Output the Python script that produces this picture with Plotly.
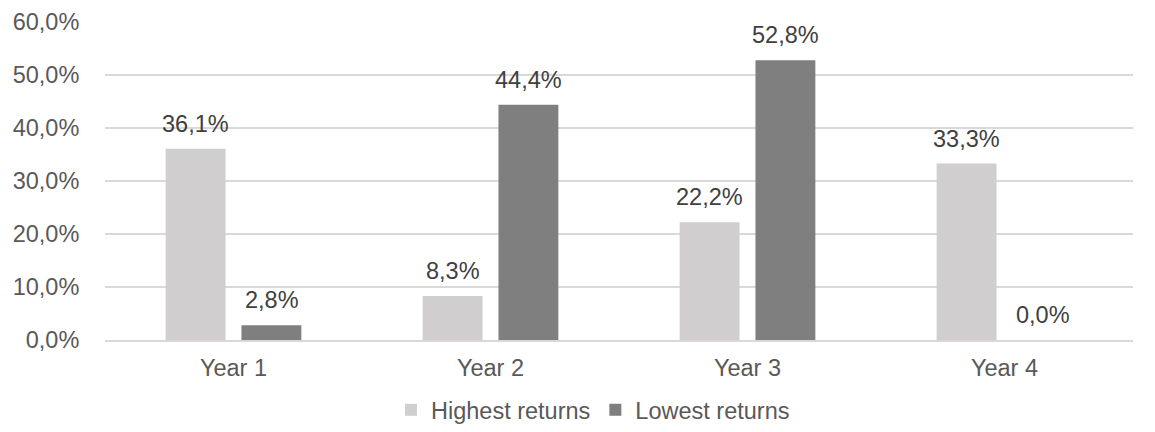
import plotly.graph_objects as go

categories = ["Year 1", "Year 2", "Year 3", "Year 4"]
highest = [0.361, 0.083, 0.222, 0.333]
lowest = [0.028, 0.444, 0.528, 0.0]
series_names = ["Highest returns", "Lowest returns"]
colors = ["#D0CECE", "#7F7F7F"]

FONT = "Liberation Sans, Arial, sans-serif"
FS = 23.5

fig = go.Figure()
for name, vals, col in zip(series_names, [highest, lowest], colors):
    fig.add_trace(go.Bar(
        x=categories, y=vals, name=name,
        marker=dict(color=col, line=dict(width=0)),
        cliponaxis=False,
    ))

# data labels placed above each bar, using the data values
for vals, shift in zip([highest, lowest], [-38, 38]):
    for cat, v in zip(categories, vals):
        fig.add_annotation(
            x=cat, y=v, xref="x", yref="y", text=f"{v*100:.1f}%".replace(".", ","),
            showarrow=False, xanchor="center", yanchor="bottom",
            xshift=shift, yshift=10,
            font=dict(family=FONT, size=FS, color="#404040"),
        )

fig.update_layout(
    width=1155, height=432,
    margin=dict(l=105, r=22, t=22, b=92),
    paper_bgcolor="white", plot_bgcolor="white",
    separators=",.",
    barmode="group", bargap=0.41, bargroupgap=0.21,
    font=dict(family=FONT, size=FS, color="#595959"),
    showlegend=True,
    legend=dict(orientation="h", x=0.4747, xanchor="center", yref="container",
                y=0.0, yanchor="bottom", bgcolor="rgba(0,0,0,0)",
                font=dict(family=FONT, size=FS, color="#595959"),
                itemwidth=30, traceorder="normal"),
    xaxis=dict(showgrid=False, showline=True, linecolor="#D9D9D9", linewidth=2,
               automargin=False,
               ticks="outside", ticklen=6, tickcolor="rgba(0,0,0,0)",
               tickfont=dict(size=FS, color="#595959")),
    yaxis=dict(range=[0, 0.6], dtick=0.1, tickformat=".1%", showgrid=True,
               automargin=False,
               gridcolor="#D9D9D9", gridwidth=2, zeroline=False, showline=False,
               ticks="outside", ticklen=20, tickcolor="rgba(0,0,0,0)",
               tickfont=dict(size=FS, color="#595959")),
)

fig.write_html("out.html")
